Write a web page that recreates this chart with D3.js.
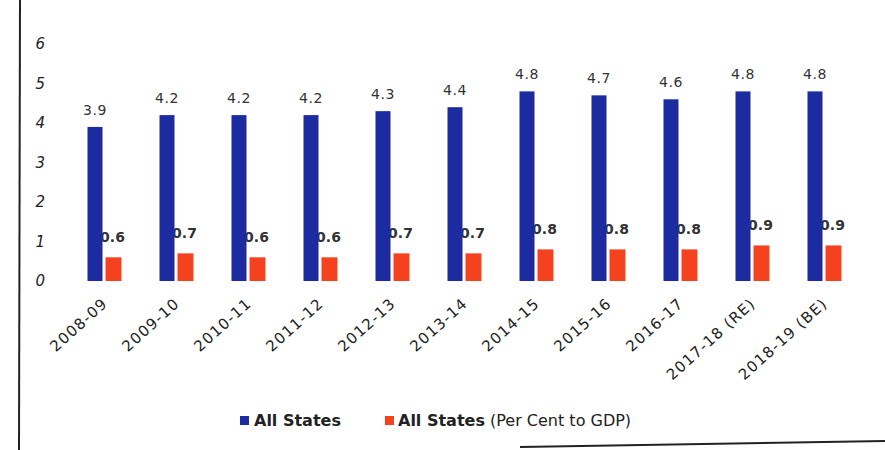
<!DOCTYPE html>
<html><head><meta charset="utf-8">
<script src="https://cdn.jsdelivr.net/npm/d3@7"></script>
<style>body{margin:0;background:#fff}svg{display:block}</style>
</head><body><svg id="c" width="885" height="450"></svg>
<script>
const categories = ["2008-09","2009-10","2010-11","2011-12","2012-13","2013-14","2014-15","2015-16","2016-17","2017-18 (RE)","2018-19 (BE)"];
const allStates = [3.9,4.2,4.2,4.2,4.3,4.4,4.8,4.7,4.6,4.8,4.8];
const perCentGDP = [0.6,0.7,0.6,0.6,0.7,0.7,0.8,0.8,0.8,0.9,0.9];
const yTicks = [0,1,2,3,4,5,6];
const seriesNames = ["All States","All States (Per Cent to GDP)"];
const colors = ["#1c2ba0","#f4421f"];

const svg = d3.select("#c");
const font = "'DejaVu Sans', Verdana, sans-serif";
const x = d3.scaleBand().domain(categories).range([67,859]).paddingInner(0).paddingOuter(0);
const y = d3.scaleLinear().domain([0,6]).range([281,44]);

// frame lines (edges of the figure)
svg.append("line").attr("x1",20).attr("x2",19).attr("y1",0).attr("y2",450).attr("stroke","#222").attr("stroke-width",2);
svg.append("line").attr("x1",520).attr("x2",885).attr("y1",447).attr("y2",441).attr("stroke","#222").attr("stroke-width",2);

// y axis labels
const yAxis = d3.axisLeft(y).tickValues(yTicks).tickSize(0).tickPadding(0).tickFormat(d3.format("d"));
const ga = svg.append("g").attr("transform","translate(45,0)").call(yAxis);
ga.select(".domain").remove();
ga.selectAll("text").attr("font-family",font).attr("font-size",15).attr("fill","#222").attr("font-style","italic");

const bw = 15, rw = 16, gap = 3;
const g = svg.append("g");
const pos = categories.map(c => {
  const cx = x(c) + x.bandwidth()/2;
  return {bx: cx - bw - gap/2 + 1, rx: cx + gap/2 + 1};
});
// red labels first so blue bars overlap them slightly
categories.forEach((c,i)=>{
  g.append("text").attr("x",pos[i].rx+rw/2-1).attr("y",y(perCentGDP[i])-15).attr("text-anchor","middle")
    .attr("font-family",font).attr("font-weight","bold").attr("font-size",14).attr("fill","#333").text(d3.format(".1f")(perCentGDP[i]));
});
categories.forEach((c,i)=>{
  g.append("rect").attr("x",pos[i].bx).attr("y",y(allStates[i])).attr("width",bw).attr("height",y(0)-y(allStates[i])).attr("fill",colors[0]);
  g.append("rect").attr("x",pos[i].rx).attr("y",y(perCentGDP[i])).attr("width",rw).attr("height",y(0)-y(perCentGDP[i])).attr("fill",colors[1]);
  g.append("text").attr("x",pos[i].bx+bw/2).attr("y",y(allStates[i])-12).attr("text-anchor","middle")
    .attr("font-family",font).attr("font-size",14).attr("letter-spacing",0.5).attr("fill","#333").text(d3.format(".1f")(allStates[i]));
});

// x labels
const xAxis = d3.axisBottom(x).tickSize(0).tickPadding(0);
const gx = svg.append("g").attr("transform","translate(0,"+(y(0)+20)+")").call(xAxis);
gx.select(".domain").remove();
gx.selectAll("text").attr("font-family",font).attr("font-size",15).attr("letter-spacing",1.2).attr("fill","#222")
  .attr("text-anchor","end").attr("dy","0.35em").attr("transform","translate(2,0) rotate(-42)");

// legend
const lg = svg.append("g").attr("transform","translate(240,421)");
lg.append("rect").attr("x",0).attr("y",-5).attr("width",9).attr("height",9).attr("fill",colors[0]);
lg.append("text").attr("x",14).attr("y",5).attr("font-family",font).attr("font-size",16).attr("font-weight","bold").attr("fill","#222").text(seriesNames[0]);
lg.append("rect").attr("x",145).attr("y",-5).attr("width",9).attr("height",9).attr("fill",colors[1]);
const t2 = lg.append("text").attr("x",158).attr("y",5).attr("font-family",font).attr("font-size",16).attr("fill","#222");
t2.append("tspan").attr("font-weight","bold").text("All States");
t2.append("tspan").text(" (Per Cent to GDP)");
</script></body></html>
